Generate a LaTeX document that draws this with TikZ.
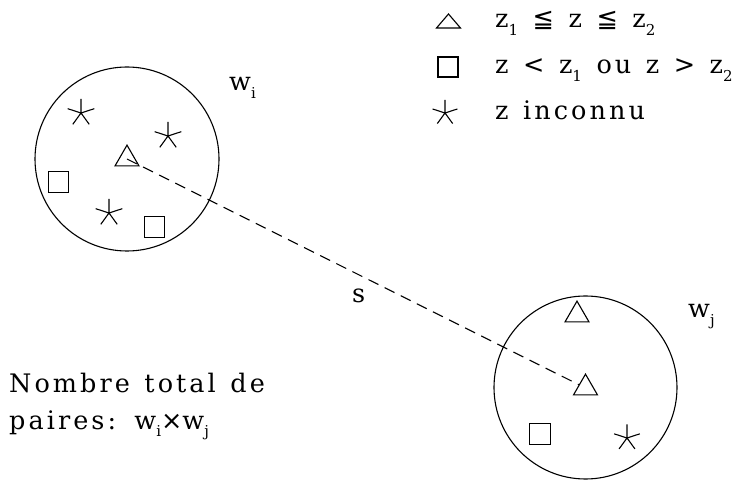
\documentclass[tikz,border=0pt]{standalone}
\usepackage{fontspec}
\setmainfont{DejaVu Serif}[LetterSpace=12,WordSpace=1.3]
\newfontfamily\symfont{DejaVu Sans}
\usetikzlibrary{shapes.geometric}
\newcommand\mysub[1]{\raisebox{-0.3em}{\fontsize{15}{15}\selectfont #1}}
\tikzset{
  ring/.style={circle,draw,line width=1.1pt,inner sep=0pt},
  tri/.style={regular polygon,regular polygon sides=3,draw,line width=1.1pt,inner sep=0pt,minimum size=27.7pt},
  sq/.style={rectangle,draw,line width=1.1pt,inner sep=0pt,minimum size=20.5pt},
  pt/.style={coordinate},
  lbl/.style={anchor=base west,inner sep=0pt,font=\fontsize{25.5}{25.5}\selectfont},
  link/.style={line width=1.1pt,dash pattern=on 11pt off 7pt},
}
\newcommand\astk[2]{%
  \draw[line width=1.1pt] (#1) -- ++(0,-#2) (#1) -- ++(0.951*#2,-0.309*#2) (#1) -- ++(-0.951*#2,-0.309*#2)
    (#1) -- ++(0.588*#2,0.809*#2) (#1) -- ++(-0.588*#2,0.809*#2);}
\begin{document}
\begin{tikzpicture}[x=1pt,y=-1pt]
\useasboundingbox (0,0) rectangle (756,481);
% circles
\node[ring,minimum size=184pt] (ci) at (127,159) {};
\node[ring,minimum size=183pt] (cj) at (585.5,387.5) {};
% symbols in circle i
\node[tri] (ti) at (127,159) {};
\node[sq] (si1) at (58.5,182) {};
\node[sq] (si2) at (154.5,227) {};
\node[pt] (ai1) at (81,113) {};
\node[pt] (ai2) at (168,136) {};
\node[pt] (ai3) at (109,213) {};
\astk{ai1}{14}\astk{ai2}{14}\astk{ai3}{14}
% symbols in circle j
\node[tri] (tj) at (585.5,388) {};
\node[tri] (tj2) at (577,315) {};
\node[sq] (sj) at (540,434) {};
\node[pt] (aj) at (627,438) {};
\astk{aj}{13.5}
% connector
\draw[link] (ti.center) -- (tj);
% labels
\node[lbl] (wi) at (229,91) {w\mysub{i}};
\node[lbl] (wj) at (688,318) {w\mysub{j}};
\node[lbl] (s) at (352,303) {s};
\node[lbl] (n1) at (9,393) {Nombre total de};
\node[lbl] (n2) at (9,429) {paires: w\mysub{i}{\symfont ×}w\mysub{j}};
% legend
\draw[line width=1.1pt] (436.5,28) -- (448.5,14) -- (460.5,28) -- cycle;
\node[sq,minimum size=20pt] (ls) at (448,67) {};
\node[pt] (la) at (445,113) {};
\astk{la}{13}
\node[lbl] (l1) at (495,28) {z\mysub{1} {\symfont ≦} z {\symfont ≦} z\mysub{2}};
\node[lbl] (l2) at (495,74) {z {\symfont <} z\mysub{1} ou z {\symfont >} z\mysub{2}};
\node[lbl] (l3) at (495,120) {z inconnu};
\end{tikzpicture}
\end{document}
